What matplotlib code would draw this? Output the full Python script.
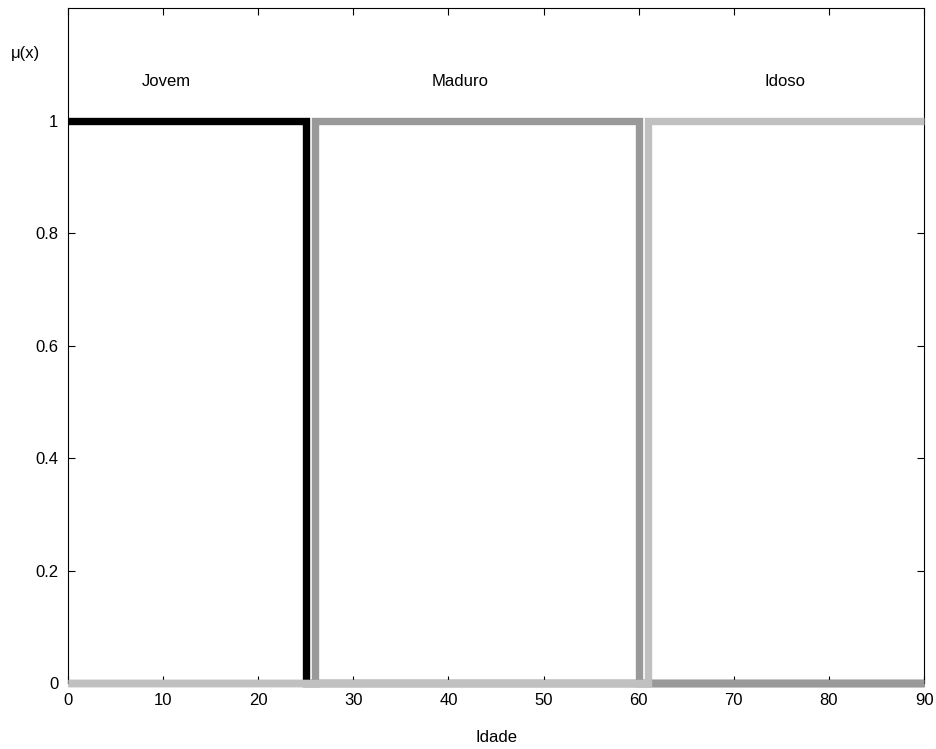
import matplotlib
matplotlib.use("Agg")
import matplotlib.pyplot as plt

plt.rcParams['font.family'] = ['Liberation Sans', 'DejaVu Sans']

# membership functions (crisp sets)
jovem_x = [0, 25, 25, 90]
jovem_y = [1, 1, 0, 0]
maduro_x = [0, 26, 26, 60, 60, 90]
maduro_y = [0, 0, 1, 1, 0, 0]
idoso_x = [0, 61, 61, 90]
idoso_y = [0, 0, 1, 1]

labels = ['Jovem', 'Maduro', 'Idoso']
label_x = [10.3, 41.2, 75.4]
label_y = 1.07

fig = plt.figure(figsize=(9.37, 7.49), dpi=100)
ax = fig.add_axes([0.0726, 0.088, 0.9136, 0.901])

style = dict(lw=5.3, solid_joinstyle='miter', solid_capstyle='butt', clip_on=False, zorder=3)
ax.plot(jovem_x, jovem_y, color='black', **style)
ax.plot(maduro_x, maduro_y, color='#999999', **style)
ax.plot(idoso_x, idoso_y, color='#c0c0c0', **style)

for lab, lx in zip(labels, label_x):
    ax.text(lx, label_y, lab, ha='center', va='center', fontsize=12)

ax.text(-4.5, 1.12, 'μ(x)', ha='center', va='center', fontsize=12)

ax.set_xlim(0, 90)
ax.set_ylim(0, 1.2)
ax.set_xticks(range(0, 91, 10))
ax.set_yticks([0, 0.2, 0.4, 0.6, 0.8, 1])
ax.set_yticklabels(['0', '0.2', '0.4', '0.6', '0.8', '1'])
ax.tick_params(direction='in', top=True, right=True, labelsize=12, length=5, pad=7)
ax.set_xlabel('Idade', fontsize=12, labelpad=16)

plt.savefig('out.png')
